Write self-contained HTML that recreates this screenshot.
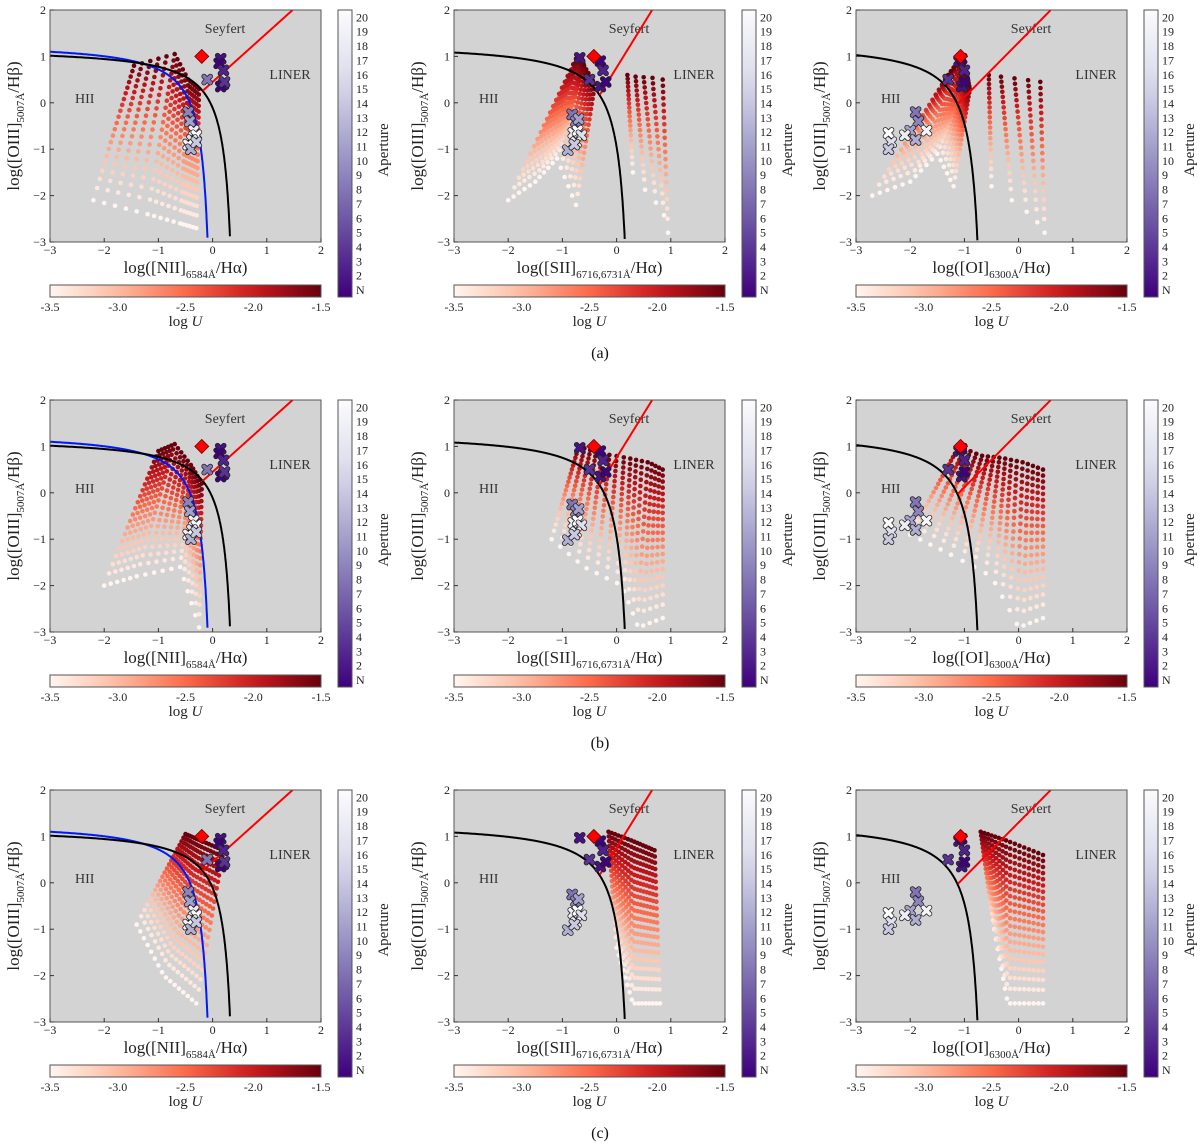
<!DOCTYPE html>
<html><head><meta charset="utf-8">
<style>
html,body{margin:0;padding:0;background:#fff;}
svg{display:block;font-family:"Liberation Serif",serif;}
</style></head>
<body>
<svg id="fig" width="1200" height="1148" viewBox="0 0 1200 1148" xmlns="http://www.w3.org/2000/svg"></svg>
<script>
// ---- data ----
const colLeft = [50, 454, 856];
const rowTop = [10, 400, 790];
const rowLabels = ["(a)", "(b)", "(c)"];
const xLabelLine = ["[NII]", "[SII]", "[OI]"];
const xLabelSub = ["6584Å", "6716,6731Å", "6300Å"];
const xTicks = [-3, -2, -1, 0, 1, 2];
const yTicks = [-3, -2, -1, 0, 1, 2];
const uTicks = [-3.5, -3.0, -2.5, -2.0, -1.5];
const uTickLabels = ["-3.5", "-3.0", "-2.5", "-2.0", "-1.5"];
const apertureLabels = ["N","2","3","4","5","6","7","8","9","10","11","12","13","14","15","16","17","18","19","20"];
const logUSteps = [-3.5,-3.4,-3.3,-3.2,-3.1,-3.0,-2.9,-2.8,-2.7,-2.6,-2.5,-2.4,-2.3,-2.2,-2.1,-2.0,-1.9,-1.8,-1.7,-1.6,-1.5];
const diamondX = [-0.2, -0.42, -1.07];
const diamondY = [1.0, 1.0, 1.0];
// observed crosses per column: x, y, aperture (1 = N)
const obsX = [
 [0.15,0.12,0.2,0.2,0.15,0.22,-0.1,-0.45,-0.42,-0.35,-0.3,-0.38,-0.45,-0.4,-0.3],
 [-0.68,-0.3,-0.25,-0.3,-0.2,-0.5,-0.82,-0.75,-0.7,-0.8,-0.72,-0.65,-0.75,-0.9,-0.78],
 [-1.1,-1.05,-1.0,-1.05,-1.0,-1.3,-1.9,-1.85,-2.0,-2.1,-2.4,-2.35,-1.7,-1.9,-2.4]
];
const obsY = [
 [0.95,0.85,0.7,0.4,0.35,0.45,0.5,-0.2,-0.4,-0.6,-0.7,-0.8,-0.9,-1.0,-0.85],
 [0.97,0.9,0.7,0.35,0.45,0.5,-0.25,-0.4,-0.35,-0.65,-0.6,-0.7,-0.85,-1.02,-0.9],
 [0.9,0.95,0.7,0.35,0.45,0.5,-0.2,-0.4,-0.6,-0.7,-0.65,-0.85,-0.6,-0.8,-1.0]
];
const obsAp = [2,1,3,2,1,4,8,9,11,18,20,16,19,12,14];
// model grids per panel [row][col]: high-U edge and low-U edge control points
const gridHiX = [
 [[-1.45,-0.7,-0.45,-0.25],[-0.75,-0.65,-0.6,-0.4],[-1.3,-1.05,-0.95,-0.9]],
 [[-1.0,-0.7,-0.4,-0.2],[-0.7,-0.3,0.2,0.6,0.85],[-1.1,-0.7,-0.3,0.1,0.45]],
 [[-0.5,-0.2,0.2],[-0.15,0.3,0.7],[-0.7,-0.2,0.45]]
];
const gridHiY = [
 [[0.8,1.05,0.5,0.3],[0.95,1.0,0.8,0.4],[0.6,1.0,0.6,0.3]],
 [[0.9,1.05,0.6,0.2],[1.0,0.85,0.75,0.65,0.5],[1.0,0.8,0.75,0.65,0.5]],
 [[1.05,0.9,0.7],[1.1,0.9,0.7],[1.1,0.9,0.6]]
];
const gridLoX = [
 [[-2.2,-1.2,-0.6,-0.3],[-2.0,-1.5,-1.1,-0.75],[-2.7,-2.0,-1.5,-1.2]],
 [[-2.0,-1.4,-0.6,-0.25],[-1.2,-0.6,0.1,0.4,0.85],[-2.0,-1.3,-0.5,0.0,0.45]],
 [[-1.4,-0.9,-0.3],[0.0,0.3,0.8],[-0.45,-0.2,0.45]]
];
const gridLoY = [
 [[-2.1,-2.4,-2.6,-2.7],[-2.1,-1.7,-1.2,-2.2],[-2.0,-1.7,-1.1,-1.8]],
 [[-2.0,-1.8,-1.6,-2.9],[-1.0,-1.6,-2.0,-2.9,-2.7],[-0.9,-1.3,-1.8,-2.9,-2.7]],
 [[-0.9,-2.0,-2.6],[-1.4,-2.6,-2.6],[-1.0,-2.6,-2.6]]
];
// extra vertical streak grids (row a, cols 2 & 3)
const streakHiX = [null,[0.2,0.4,0.6,0.85],[-0.55,-0.25,0.1,0.4]];
const streakHiY = [null,[0.6,0.55,0.55,0.5],[0.6,0.55,0.5,0.45]];
const streakLoX = [null,[0.3,0.6,0.85,0.95],[-0.5,0.0,0.3,0.48]];
const streakLoY = [null,[-1.5,-2.0,-2.3,-2.8],[-1.8,-2.2,-2.5,-2.8]];

// ---- helpers ----
const NS="http://www.w3.org/2000/svg";
const svg=document.getElementById('fig');
function mk(tag, attrs, parent){const e=document.createElementNS(NS,tag);for(const k in attrs)e.setAttribute(k,attrs[k]);(parent||svg).appendChild(e);return e;}
function lerp(a,b,t){return a+(b-a)*t;}
function lerpC(c1,c2,t){return c1.map((v,i)=>Math.round(lerp(v,c2[i],t)));}
const redsStops=[[255,245,240],[252,187,161],[251,106,74],[203,24,29],[103,0,13]];
function redC(u){let t=(u+3.5)/2;t=Math.max(0,Math.min(1,t));const s=t*4;const i=Math.min(3,Math.floor(s));const c=lerpC(redsStops[i],redsStops[i+1],s-i);return `rgb(${c})`;}
const purpStops=[[63,0,125],[106,81,163],[158,154,200],[218,218,235],[252,251,253]];
function purC(a){let t=(a-1)/19;const s=t*4;const i=Math.min(3,Math.floor(s));const c=lerpC(purpStops[i],purpStops[i+1],s-i);return `rgb(${c})`;}
function resample(arr,n){const out=[];for(let k=0;k<n;k++){const p=k/(n-1)*(arr.length-1);const i=Math.min(arr.length-2,Math.floor(p));out.push(lerp(arr[i],arr[i+1],p-i));}return out;}

const W=271,H=232;
function drawGrid(g,sx,sy,hx,hy,lx,ly,ncol,name){
  const HX=resample(hx,ncol),HY=resample(hy,ncol),LX=resample(lx,ncol),LY=resample(ly,ncol);
  logUSteps.forEach(u=>{
    const t=Math.pow((u+3.5)/2,0.8);
    for(let c=0;c<ncol;c++){
      const x=lerp(LX[c],HX[c],t), y=lerp(LY[c],HY[c],t);
      const d=mk('circle',{cx:sx(x).toFixed(1),cy:sy(y).toFixed(1),r:2.3,fill:redC(u)},g);
      
      
    }
  });
}
function curve(g,f,x0,x1,sx,sy,color,name,w){
  let d='';let first=true;
  for(let x=x0;x<=x1;x+=0.005){const y=f(x);if(y<-3||y>2||!isFinite(y))continue;d+=(first?'M':'L')+sx(x).toFixed(1)+','+sy(y).toFixed(1);first=false;}
  const p=mk('path',{d:d,stroke:color,'stroke-width':w||2,fill:'none'},g);
  
  
}
const kewley=[x=>0.61/(x-0.47)+1.19, x=>0.72/(x-0.32)+1.30, x=>0.73/(x+0.59)+1.33];
const kewleyMax=[0.46,0.31,-0.6];
const kauff=x=>0.61/(x-0.05)+1.3;
const seyLin=[x=>1.05*x+0.45, x=>1.89*x+0.76, x=>1.18*x+1.30];
const seyStart=[-0.18,-0.31,-1.12];

for(let r=0;r<3;r++){
 for(let c=0;c<3;c++){
  const ox=colLeft[c], oy=rowTop[r];
  const sx=v=>ox+(v+3)/5*W, sy=v=>oy+(2-v)/5*H;
  const g=mk('g',{});
  
  
  const bg=mk('rect',{x:ox,y:oy,width:W,height:H,fill:'#d3d3d3'},g);
  
  
  const clipId='cl'+r+c;
  const cp=mk('clipPath',{id:clipId},g);mk('rect',{x:ox,y:oy,width:W,height:H},cp);
  const inner=mk('g',{'clip-path':`url(#${clipId})`},g);
  // region labels
  const t1=mk('text',{x:ox+175,y:oy+23,'font-size':14,'text-anchor':'middle',fill:'#333'},inner);t1.textContent='Seyfert';
  
  const t2=mk('text',{x:ox+240,y:oy+69,'font-size':14,'text-anchor':'middle',fill:'#333'},inner);t2.textContent='LINER';
  
  const t3=mk('text',{x:ox+25,y:oy+93,'font-size':14,fill:'#333'},inner);t3.textContent='HII';
  
  // models
  drawGrid(inner,sx,sy,gridHiX[r][c],gridHiY[r][c],gridLoX[r][c],gridLoY[r][c],16,'model-grid');
  if(r===0&&streakHiX[c])drawGrid(inner,sx,sy,streakHiX[c],streakHiY[c],streakLoX[c],streakLoY[c],5,'model-streak');
  // demarcation lines
  if(c===0)curve(inner,kauff,-3,0.04,sx,sy,'#0018ff','kauffmann-line',2);
  curve(inner,kewley[c],-3,kewleyMax[c],sx,sy,'#000','kewley-line',2);
  curve(inner,seyLin[c],seyStart[c],2,sx,sy,'#ff0000','seyfert-liner-line',2);
  // observed
  obsX[c].forEach((xv,i)=>{
    const px=sx(xv),py=sy(obsY[c][i]);const s=3.2,w=3.6;
    const p=mk('path',{d:`M${px-s},${py-s}L${px+s},${py+s}M${px-s},${py+s}L${px+s},${py-s}`,stroke:'#222','stroke-width':w+1.6,'stroke-linecap':'round',fill:'none'},inner);
    
    const p2=mk('path',{d:`M${px-s},${py-s}L${px+s},${py+s}M${px-s},${py+s}L${px+s},${py-s}`,stroke:purC(obsAp[i]),'stroke-width':w,'stroke-linecap':'round',fill:'none'},inner);
    
  });
  const dx=sx(diamondX[c]),dy=sy(diamondY[c]);
  const dm=mk('path',{d:`M${dx},${dy-7}L${dx+7},${dy}L${dx},${dy+7}L${dx-7},${dy}Z`,fill:'#ff0000',stroke:'#600','stroke-width':0.8},inner);
  
  mk('rect',{x:ox,y:oy,width:W,height:H,fill:'none',stroke:'#555','stroke-width':1},g);
  // ticks
  xTicks.forEach(v=>{
    mk('line',{x1:sx(v),x2:sx(v),y1:oy+H,y2:oy+H-4,stroke:'#333'},g);
    const t=mk('text',{x:sx(v),y:oy+H+12,'font-size':12,'text-anchor':'middle',fill:'#222'},g);t.textContent=v<0?'−'+(-v):String(v);
    
  });
  yTicks.forEach(v=>{
    mk('line',{x1:ox,x2:ox+4,y1:sy(v),y2:sy(v),stroke:'#333'},g);
    const t=mk('text',{x:ox-4,y:sy(v)+4,'font-size':12,'text-anchor':'end',fill:'#222'},g);t.textContent=v<0?'−'+(-v):String(v);
    
  });
  // axis titles
  const xl=mk('text',{x:ox+W/2,y:oy+H+31,'font-size':17,'text-anchor':'middle',fill:'#222'},g);
  xl.innerHTML=`log(${xLabelLine[c]}<tspan font-size="11" dy="5">${xLabelSub[c]}</tspan><tspan dy="-5">/Hα)</tspan>`;
  
  const yl=mk('text',{x:0,y:0,'font-size':17,'text-anchor':'middle',fill:'#222',transform:`translate(${ox-31},${oy+H/2}) rotate(-90)`},g);
  yl.innerHTML=`log([OIII]<tspan font-size="11" dy="5">5007Å</tspan><tspan dy="-5">/Hβ)</tspan>`;
  
  // logU colorbar
  const gid='gu'+r+c;
  const lg=mk('linearGradient',{id:gid,x1:0,x2:1,y1:0,y2:0},g);
  for(let k=0;k<=10;k++){mk('stop',{offset:k/10,'stop-color':redC(-3.5+k*0.2)},lg);}
  const cb=mk('rect',{x:ox,y:oy+275,width:W,height:12,fill:`url(#${gid})`,stroke:'#555','stroke-width':1},g);
  
  uTicks.forEach((u,i)=>{
    const px=ox+(u+3.5)/2*W;
    const t=mk('text',{x:px,y:oy+301,'font-size':12,'text-anchor':'middle',fill:'#222'},g);t.textContent=uTickLabels[i];
    
  });
  const ut=mk('text',{x:ox+W/2,y:oy+316,'font-size':15,'text-anchor':'middle',fill:'#222'},g);
  ut.innerHTML='log <tspan font-style="italic">U</tspan>';
  
  // aperture colorbar
  const ax=ox+W+17;
  const ag='ga'+r+c;
  const lg2=mk('linearGradient',{id:ag,x1:0,x2:0,y1:1,y2:0},g);
  for(let k=0;k<=10;k++){mk('stop',{offset:k/10,'stop-color':purC(1+k*1.9)},lg2);}
  const ab=mk('rect',{x:ax,y:oy,width:14,height:287,fill:`url(#${ag})`,stroke:'#555','stroke-width':1},g);
  
  apertureLabels.forEach((l,i)=>{
    const t=mk('text',{x:ax+18,y:oy+284-i*14.35,'font-size':12,fill:'#222'},g);t.textContent=l;
    
  });
  const at=mk('text',{x:0,y:0,'font-size':15,'text-anchor':'middle',fill:'#222',transform:`translate(${ax+50},${oy+140}) rotate(-90)`},g);
  at.textContent='Aperture';
  
 }
 const rl=mk('text',{x:600,y:rowTop[r]+348,'font-size':16,'text-anchor':'middle',fill:'#111'});
 rl.textContent=rowLabels[r];
 
}
</script>
</body></html>
